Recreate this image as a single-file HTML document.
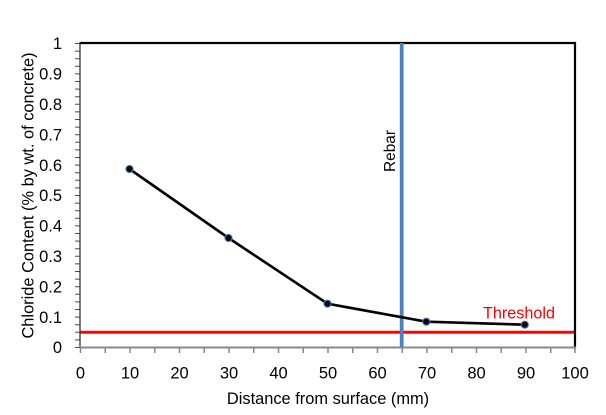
<!DOCTYPE html>
<html>
<head>
<meta charset="utf-8">
<style>
  html, body { margin:0; padding:0; background:#fff; }
  svg { display:block; }
  text { font-family: "Liberation Sans", sans-serif; }
</style>
</head>
<body>
<svg width="606" height="415" viewBox="0 0 606 415" xmlns="http://www.w3.org/2000/svg">
  <rect x="0" y="0" width="606" height="415" fill="#fff"/>

  <!-- Y minor/major ticks every 0.025 -->
  <g stroke="#4a4a4a" stroke-width="1">
    <path d="M75 347.5H80 M75 339.9H80 M75 332.3H80 M75 324.7H80 M75 317.1H80 M75 309.5H80 M75 301.9H80 M75 294.3H80 M75 286.7H80 M75 279.1H80 M75 271.5H80 M75 263.9H80 M75 256.3H80 M75 248.7H80 M75 241.1H80 M75 233.5H80 M75 225.9H80 M75 218.3H80 M75 210.7H80 M75 203.1H80 M75 195.5H80 M75 187.9H80 M75 180.3H80 M75 172.7H80 M75 165.1H80 M75 157.5H80 M75 149.9H80 M75 142.3H80 M75 134.7H80 M75 127.1H80 M75 119.5H80 M75 111.9H80 M75 104.3H80 M75 96.7H80 M75 89.1H80 M75 81.5H80 M75 73.9H80 M75 66.3H80 M75 58.7H80 M75 51.1H80 M75 43.5H80"/>
  </g>

  <!-- X ticks every 5 -->
  <g stroke="#888" stroke-width="1.5">
    <path d="M80.5 347V353 M105.25 347V353 M130 347V353 M154.75 347V353 M179.5 347V353 M204.25 347V353 M229 347V353 M253.75 347V353 M278.5 347V353 M303.25 347V353 M328 347V353 M352.75 347V353 M377.5 347V353 M402.25 347V353 M427 347V353 M451.75 347V353 M476.5 347V353 M501.25 347V353 M526 347V353 M550.75 347V353 M575 347V353"/>
  </g>

  <!-- Plot frame -->
  <line x1="80" y1="43" x2="576" y2="43" stroke="#000" stroke-width="2.2"/>
  <line x1="575" y1="42" x2="575" y2="347" stroke="#000" stroke-width="2.2"/>
  <line x1="80" y1="42" x2="80" y2="348" stroke="#333" stroke-width="1.3"/>
  <line x1="79.5" y1="347.5" x2="576" y2="347.5" stroke="#888" stroke-width="2"/>

  <!-- Threshold line -->
  <line x1="80.5" y1="332.2" x2="574" y2="332.2" stroke="#ff0000" stroke-width="3"/>

  <!-- Rebar line -->
  <line x1="401.7" y1="43" x2="401.7" y2="347" stroke="#4f81bd" stroke-width="3.8"/>

  <!-- Data series -->
  <polyline points="129.5,169 228.5,238 327.5,303.7 426.3,321.7 524.8,324.7" fill="none" stroke="#000" stroke-width="2.6" stroke-linejoin="round"/>
  <g fill="#0a0a14" stroke="#4f81bd" stroke-width="1">
    <circle cx="129.5" cy="169" r="3.6"/>
    <circle cx="228.5" cy="238" r="3.6"/>
    <circle cx="327.5" cy="303.7" r="3.6"/>
    <circle cx="426.3" cy="321.7" r="3.6"/>
    <circle cx="524.8" cy="324.7" r="3.6"/>
  </g>

  <!-- Y tick labels -->
  <g font-size="16.5" fill="#000" text-anchor="end">
    <text x="62" y="353.2">0</text>
    <text x="62" y="322.8">0.1</text>
    <text x="62" y="292.4">0.2</text>
    <text x="62" y="262.0">0.3</text>
    <text x="62" y="231.6">0.4</text>
    <text x="62" y="201.2">0.5</text>
    <text x="62" y="170.8">0.6</text>
    <text x="62" y="140.4">0.7</text>
    <text x="62" y="110.0">0.8</text>
    <text x="62" y="79.6">0.9</text>
    <text x="62" y="49.2">1</text>
  </g>

  <!-- X tick labels -->
  <g font-size="16.5" fill="#000" text-anchor="middle">
    <text x="80.5" y="378.5">0</text>
    <text x="130" y="378.5">10</text>
    <text x="179.5" y="378.5">20</text>
    <text x="229" y="378.5">30</text>
    <text x="278.5" y="378.5">40</text>
    <text x="328" y="378.5">50</text>
    <text x="377.5" y="378.5">60</text>
    <text x="427" y="378.5">70</text>
    <text x="476.5" y="378.5">80</text>
    <text x="526" y="378.5">90</text>
    <text x="575" y="378.5">100</text>
  </g>

  <!-- Axis titles -->
  <text x="328" y="404" font-size="16.4" fill="#000" text-anchor="middle">Distance from surface (mm)</text>
  <text transform="translate(33.5,195.5) rotate(-90)" font-size="16.4" fill="#000" text-anchor="middle">Chloride Content (% by wt. of concrete)</text>

  <!-- Annotations -->
  <text transform="translate(395,151) rotate(-90)" font-size="15.4" fill="#000" text-anchor="middle">Rebar</text>
  <text x="483" y="318.3" font-size="16.2" fill="#ff0000">Threshold</text>
</svg>
</body>
</html>
